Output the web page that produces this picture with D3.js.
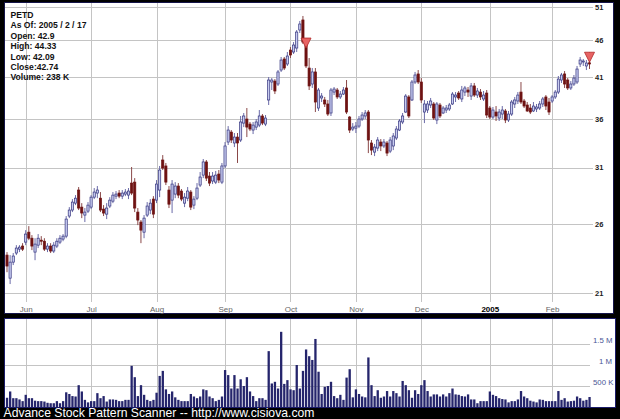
<!DOCTYPE html>
<html><head><meta charset="utf-8">
<script src="https://cdn.jsdelivr.net/npm/d3@7"></script>
<style>body{margin:0;background:#000;} svg{display:block;}</style>
</head><body><svg id="c" width="620" height="419"></svg>
<script>
const ticker = "PETD";
const legendLines = ["PETD","As Of: 2005 / 2 / 17","Open: 42.9","High: 44.33","Low: 42.09","Close:42.74","Volume: 238 K"];
const monthLabels = ["Jun","Jul","Aug","Sep","Oct","Nov","Dec","2005","Feb"];
const monthStartIdx = [6,27,48,70,91,112,133,155,175];
const priceTicks = [21,26,31,36,41,46,51];
const volTicks = [500,1000,1500];
const volTickLabels = ["500 K","1 M","1.5 M"];
const signalIdx = [96,187];
const footer = "Advance Stock Pattern Scanner -- http://www.cisiova.com";

const open = [23.64,22.01,23.13,23.79,24.08,24.31,24.61,25.38,24.91,23.86,24.38,24.76,24.68,24.08,24.31,23.94,24.31,24.61,24.84,25.07,
26.68,27.18,27.77,28.92,27.43,26.76,27.09,27.43,28.29,28.65,28.20,27.26,26.84,27.52,27.94,28.38,28.65,28.38,28.56,28.47,
29.55,29.64,27.01,26.19,25.38,26.76,27.18,28.12,28.03,28.92,31.74,31.16,28.92,28.03,28.56,29.28,28.83,27.77,28.20,28.74,
27.60,28.20,29.37,30.29,31.55,30.20,29.74,29.64,30.39,29.64,31.16,33.56,34.61,33.46,34.08,33.77,35.59,36.04,35.48,34.83,
35.15,35.37,36.38,35.48,38.23,40.42,40.54,40.17,41.95,43.41,42.74,44.63,44.36,44.91,47.49,48.99,45.75,42.21,40.17,41.70,
37.29,38.47,38.23,37.76,36.72,39.18,39.43,38.59,38.94,39.68,36.26,34.94,35.04,35.26,36.04,36.38,36.83,33.46,32.53,32.94,
33.56,33.15,33.46,32.63,33.15,33.98,34.83,35.71,36.83,38.59,38.23,40.42,41.44,40.42,36.83,37.06,37.64,37.76,35.93,37.64,
36.72,37.06,37.18,37.76,38.59,39.06,38.35,39.18,39.43,38.70,39.93,38.82,39.18,38.35,39.06,37.29,36.26,36.83,36.15,36.60,
36.95,35.93,36.60,37.76,38.11,39.18,38.11,37.64,37.29,36.95,37.18,37.29,37.76,38.59,37.99,38.11,38.59,39.18,40.67,41.44,
40.67,39.68,40.17,40.42,42.74,43.01,42.48,42.90];
const high = [23.86,23.64,23.79,24.38,24.38,24.53,25.54,25.86,25.15,24.91,25.23,25.07,24.91,24.53,24.53,24.61,24.91,25.15,25.23,26.68,
27.43,28.12,28.47,29.19,27.77,27.35,27.86,28.47,29.10,29.28,28.74,27.60,27.77,28.29,28.74,28.83,28.92,28.92,29.01,29.10,
31.06,30.01,27.35,26.35,26.76,27.86,28.12,28.38,29.83,31.16,32.23,31.45,29.28,29.83,29.64,29.55,29.01,28.65,29.19,28.92,
28.38,29.55,30.58,31.84,31.74,30.58,30.58,30.68,30.77,31.45,33.56,35.26,34.83,34.51,34.51,36.38,36.72,37.29,35.71,35.71,
36.04,37.06,36.60,36.49,41.05,40.92,40.79,41.95,43.68,43.68,44.36,45.05,45.75,47.49,48.84,49.60,46.32,43.54,42.21,42.21,
39.68,39.06,38.59,38.23,39.68,39.80,39.68,39.31,39.80,40.67,36.38,35.59,35.71,36.38,36.83,37.06,37.06,33.77,33.36,34.08,
33.87,33.87,33.67,34.08,34.51,35.26,36.04,36.72,38.94,38.82,40.67,41.70,41.95,40.92,38.23,38.11,38.47,37.99,37.99,37.88,
37.52,37.64,37.88,39.18,39.18,39.31,39.93,39.93,39.80,40.30,40.30,39.68,39.55,39.31,39.43,37.52,37.41,37.52,37.18,37.52,
37.18,36.95,38.23,38.59,39.18,40.42,38.35,37.99,37.76,37.99,37.76,38.11,38.59,38.82,38.47,38.82,39.43,41.18,41.57,41.82,
40.92,40.54,41.31,42.48,43.68,43.41,43.27,44.33];
const low = [22.42,21.61,22.92,23.64,23.86,23.94,24.38,24.76,24.01,23.27,24.16,24.38,23.94,23.86,23.79,23.79,24.16,24.46,24.68,24.91,
26.51,27.01,27.60,27.18,26.51,26.19,26.93,27.26,28.12,28.20,27.01,26.68,26.43,27.35,27.77,28.12,28.20,28.12,28.38,28.12,
28.47,27.01,25.94,24.53,24.91,26.60,26.84,26.51,27.77,28.29,30.77,29.37,27.35,26.93,28.20,28.20,27.94,27.43,27.94,27.18,
27.26,28.03,29.19,30.01,29.74,29.28,29.46,29.46,29.55,29.46,30.96,33.25,33.46,33.04,31.45,33.56,35.15,34.08,34.72,34.40,
34.83,35.15,35.37,35.26,37.64,39.43,38.94,39.93,41.70,41.95,42.48,43.54,44.09,44.36,47.05,45.47,42.21,39.43,39.68,36.83,
36.95,37.99,37.41,36.38,36.38,38.82,38.35,38.35,38.82,36.60,34.51,34.72,34.51,35.04,35.82,36.04,32.43,32.23,32.13,32.63,
32.63,32.94,32.13,32.43,32.73,33.77,34.72,35.48,36.72,36.15,38.11,40.17,40.17,37.88,35.59,36.72,37.29,35.93,35.48,36.15,
36.60,36.72,36.95,37.64,37.99,38.23,37.99,38.70,38.59,38.23,38.59,38.47,38.23,38.11,36.15,36.04,36.04,35.82,35.82,36.04,
35.59,35.71,36.38,37.29,37.76,37.76,37.29,36.83,36.60,36.83,36.83,37.06,37.41,37.06,36.49,37.88,38.35,38.94,40.30,39.68,
39.43,39.43,39.93,40.17,42.35,42.48,41.95,42.09];
const close = [22.85,23.13,23.57,24.16,24.23,24.08,25.23,24.91,24.31,24.46,24.91,24.68,24.08,24.31,23.94,24.38,24.68,24.91,25.07,26.43,
27.18,27.86,28.20,27.35,26.93,27.01,27.60,28.29,28.74,28.92,27.18,26.93,27.35,28.03,28.47,28.56,28.38,28.65,28.74,28.83,
28.65,27.35,26.35,25.54,26.51,27.52,27.77,26.84,29.46,30.77,30.96,29.64,27.68,29.46,29.28,28.47,28.12,28.29,28.83,27.43,
28.12,29.10,30.11,31.55,30.01,29.55,30.20,30.29,29.83,31.16,33.15,34.83,33.77,34.08,33.46,35.71,36.38,35.15,34.94,35.37,
35.71,36.38,35.59,36.15,40.67,40.67,39.31,41.70,43.27,42.21,43.81,43.95,45.33,47.19,48.38,45.75,42.48,39.93,41.70,37.99,
39.43,38.70,37.76,36.60,39.43,39.55,38.59,38.94,39.43,36.83,34.83,35.15,35.26,36.04,36.49,36.72,33.77,32.73,33.04,33.77,
33.15,33.56,32.43,33.77,34.19,34.94,35.82,36.38,38.70,36.38,40.42,41.31,40.42,38.23,37.76,37.76,38.11,36.15,37.76,36.38,
37.29,37.29,37.64,38.94,38.82,38.47,39.43,39.68,39.18,39.93,38.82,39.31,38.59,38.82,36.49,36.26,37.06,36.38,36.83,37.06,
35.93,36.60,37.99,38.23,38.82,37.99,37.52,36.95,36.83,37.52,37.41,37.76,38.35,37.52,36.83,38.59,39.18,40.79,41.31,40.17,
39.68,40.17,40.92,42.08,43.27,43.14,42.87,42.74];
// volume in thousands of shares
const volume = [220,370,210,210,180,140,290,210,210,150,140,140,130,100,90,90,140,90,140,350,
310,260,250,520,370,170,110,140,140,330,210,260,130,180,180,170,140,140,170,170,
980,710,260,520,290,170,140,170,340,740,860,420,310,370,230,170,140,140,140,310,
250,210,250,420,400,250,210,140,170,250,880,760,440,760,440,660,500,710,370,260,
140,210,210,170,1330,560,600,440,1790,550,640,420,400,1000,440,860,1370,1210,1120,1620,
840,310,480,500,600,260,210,290,170,700,900,230,420,310,250,230,1180,520,260,400,
220,250,380,250,380,330,250,620,520,400,220,400,310,520,640,380,250,300,300,250,
300,250,330,440,300,290,260,250,300,180,180,90,140,140,140,370,290,260,210,190,
180,110,140,140,180,380,250,210,150,130,110,180,170,140,140,140,140,380,170,210,
130,140,150,250,210,150,170,238];

const svg = d3.select("#c");
const N = close.length;
const x = d3.scaleLinear().domain([0, N - 1]).range([7, 589.5]);
const y = d3.scaleLog().domain([21, 51]).range([293.3, 7]);
const yv = d3.scaleLinear().domain([0, 1500]).range([407, 344]);

svg.append("rect").attr("width",620).attr("height",419).attr("fill","#000");
// panels
svg.append("rect").attr("x",4.5).attr("y",2.5).attr("width",609).attr("height",311)
  .attr("fill","#fff").attr("stroke","#15154a").attr("stroke-width",1);
svg.append("rect").attr("x",4.5).attr("y",318.5).attr("width",611).attr("height",89)
  .attr("fill","#fff").attr("stroke","#1c1c6a").attr("stroke-width",1);

const grid = "#c4c4c4";
// price grid
const gp = svg.append("g");
gp.selectAll("line.h").data(priceTicks).join("line")
  .attr("x1",5).attr("x2",593).attr("y1",d=>Math.round(y(d))+0.5).attr("y2",d=>Math.round(y(d))+0.5)
  .attr("stroke",grid).attr("stroke-width",1);
gp.selectAll("line.v").data(monthStartIdx).join("line")
  .attr("x1",d=>Math.round(x(d))+0.5).attr("x2",d=>Math.round(x(d))+0.5)
  .attr("y1",3).attr("y2",302).attr("stroke",grid).attr("stroke-width",1);
gp.selectAll("text.p").data(priceTicks).join("text")
  .attr("x",595).attr("y",d=>y(d)).attr("dy","0.35em")
  .attr("font-family","Liberation Sans, Arial, sans-serif").attr("font-size",7.5).attr("font-weight","bold")
  .attr("fill","#222").text(d=>d);
gp.selectAll("text.m").data(monthStartIdx).join("text")
  .attr("x",d=>x(d)+0.5).attr("y",311.5).attr("text-anchor","middle")
  .attr("font-family","Liberation Sans, Arial, sans-serif").attr("font-size",8)
  .attr("font-weight",(d,i)=>monthLabels[i]==="2005"?"bold":"normal")
  .attr("fill",(d,i)=>monthLabels[i]==="2005"?"#000":"#666")
  .text((d,i)=>monthLabels[i]);

// candles
const gc = svg.append("g");
const idx = d3.range(N);
gc.selectAll("line.w").data(idx).join("line")
  .attr("x1",i=>x(i)).attr("x2",i=>x(i))
  .attr("y1",i=>y(high[i])).attr("y2",i=>y(low[i]))
  .attr("stroke",i=>close[i]>=open[i]?"#6a6aa8":"#8a4848").attr("stroke-width",1);
gc.selectAll("rect.b").data(idx).join("rect")
  .attr("x",i=>x(i)-1.1).attr("width",2.2)
  .attr("y",i=>y(Math.max(open[i],close[i])))
  .attr("height",i=>Math.max(1,Math.abs(y(open[i])-y(close[i]))))
  .attr("fill",i=>close[i]>=open[i]?"#c8ccf0":"#6e1212")
  .attr("stroke",i=>close[i]>=open[i]?"#34347e":"#6e1212").attr("stroke-width",0.7);

// signal triangles
gc.selectAll("path.s").data(signalIdx).join("path")
  .attr("d",i=>{const cx=x(i), t=y(high[i]); return `M${cx-5},${t} L${cx+5},${t} L${cx},${t+10} Z`;})
  .attr("fill","#e86464").attr("stroke","#b02828").attr("stroke-width",0.8);

// legend
svg.append("g").selectAll("text").data(legendLines).join("text")
  .attr("x",10.5).attr("y",(d,i)=>18+i*10.4)
  .attr("font-family","Liberation Sans, Arial, sans-serif").attr("font-size",8.6).attr("font-weight","bold")
  .attr("fill","#111").text(d=>d);

// volume panel
const gv = svg.append("g");
gv.selectAll("line.h").data(volTicks).join("line")
  .attr("x1",5).attr("x2",590).attr("y1",d=>Math.round(yv(d))+0.5).attr("y2",d=>Math.round(yv(d))+0.5)
  .attr("stroke",grid);
gv.selectAll("line.v").data(monthStartIdx).join("line")
  .attr("x1",d=>Math.round(x(d))+0.5).attr("x2",d=>Math.round(x(d))+0.5)
  .attr("y1",319).attr("y2",407).attr("stroke",grid);
gv.selectAll("rect").data(idx).join("rect")
  .attr("x",i=>x(i)-1.1).attr("width",2.3)
  .attr("y",i=>yv(volume[i])).attr("height",i=>yv(0)-yv(volume[i]))
  .attr("fill","#25256c");
svg.append("clipPath").attr("id","vclip").append("rect").attr("x",5).attr("y",319).attr("width",610).attr("height",88);
gv.append("g").attr("clip-path","url(#vclip)").selectAll("text").data(volTicks).join("text")
  .attr("x",(d,i)=>volTickLabels[i].length>4?593:612)
  .attr("text-anchor",(d,i)=>volTickLabels[i].length>4?"start":"end")
  .attr("y",d=>yv(d)-1.5)
  .attr("font-family","Liberation Sans, Arial, sans-serif").attr("font-size",7.8)
  .attr("fill","#4a5696").text((d,i)=>volTickLabels[i]);

// footer
svg.append("text").attr("x",3.5).attr("y",416.5)
  .attr("font-family","Liberation Sans, Arial, sans-serif").attr("font-size",12.2)
  .attr("fill","#fff").text(footer);
</script></body></html>
